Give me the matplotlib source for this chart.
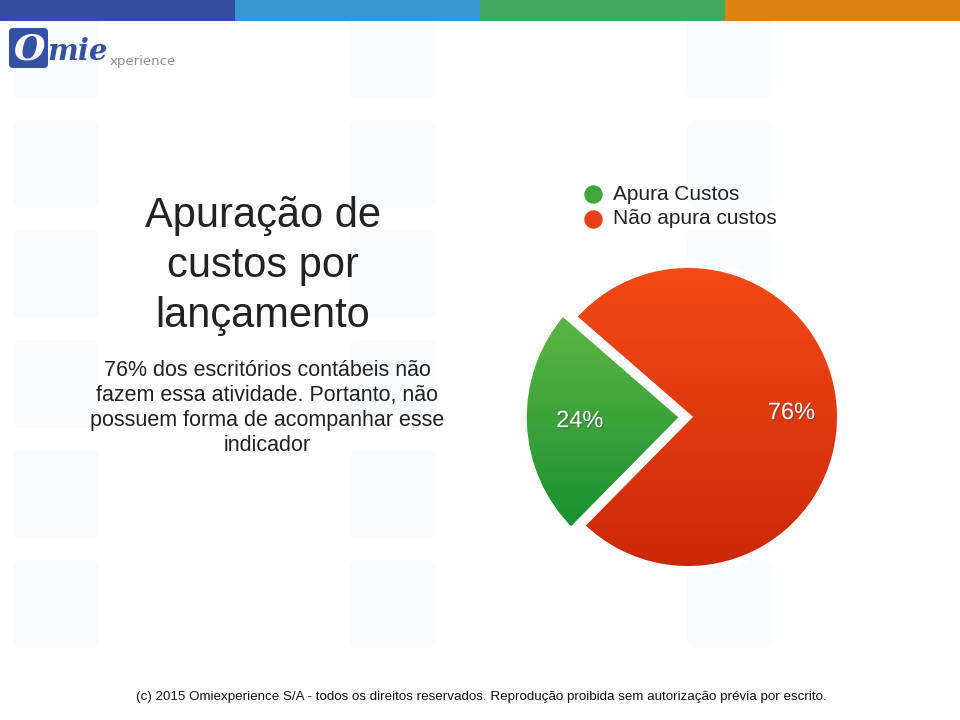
from matplotlib import pyplot as plt
from matplotlib.patches import FancyBboxPatch, Rectangle, Wedge
from matplotlib.colors import LinearSegmentedColormap
import matplotlib.patheffects as pe
import numpy as np

plt.rcParams['font.family'] = ['Liberation Sans', 'DejaVu Sans']

# data
labels = ['Apura Custos', 'Não apura custos']
shares = [24, 76]
top_colors = ['#6dbf47', '#f34a15']
bottom_colors = ['#0c882e', '#cb2808']
legend_colors = ['#3ea63a', '#e8401a']

title = 'Apuração de\ncustos por\nlançamento'
subtitle = ('76% dos escritórios contábeis não\nfazem essa atividade. Portanto, não\n'
            'possuem forma de acompanhar esse\nindicador')
footer = ('(c) 2015 Omiexperience S/A - todos os direitos reservados. '
          'Reprodução proibida sem autorização prévia por escrito.')
band_colors = ['#334ea0', '#3a95d3', '#43a95e', '#d9830e']

fig = plt.figure(figsize=(9.6, 7.2), dpi=100)

#----------------------------------------------------------------------
# page decorations in pixel coordinates
page = fig.add_axes([0, 0, 1, 1])
page.set_xlim(0, 960)
page.set_ylim(720, 0)
page.axis('off')

# faint watermark tiles
for x0 in [13, 350, 687]:
    for y0 in [10, 120, 230, 340, 450, 560]:
        page.add_patch(FancyBboxPatch((x0, y0), 86, 88,
                                      boxstyle='round,pad=0,rounding_size=8',
                                      fc='#fafbfd', ec='none', zorder=0))

edges = [0, 235, 480, 725, 960]
for i, c in enumerate(band_colors):
    page.add_patch(Rectangle((edges[i], 0), edges[i + 1] - edges[i], 21,
                             fc=c, ec='none', zorder=2))

# logo
page.add_patch(FancyBboxPatch((9, 28), 39, 40, boxstyle='round,pad=0,rounding_size=4',
                              fc='#3551a4', ec='none', zorder=2))
page.text(29, 50, 'O', fontsize=26, fontweight='bold', style='italic',
          color='white', ha='center', va='center', family='DejaVu Serif', zorder=3)
page.text(47, 52, 'mie', fontsize=21, fontweight='bold', style='italic',
          color='#3551a4', ha='left', va='center', family='DejaVu Serif', zorder=3)
page.text(110, 62, 'xperience', fontsize=9.5, color='#8a8f99', ha='left', va='center',
          family='Liberation Sans Narrow', zorder=3)

page.text(263, 266, title, fontsize=30, color='#222222', ha='center', va='center',
          linespacing=1.32, zorder=3)
page.text(267, 408, subtitle, fontsize=15.5, color='#222222', ha='center', va='center',
          linespacing=1.27, zorder=3)
page.text(481, 697, footer, fontsize=9.6, color='#111111', ha='center', va='center',
          zorder=3)

# legend
for i, lab in enumerate(labels):
    y = 194 + 25 * i
    page.scatter([593], [y], s=150, color=legend_colors[i], zorder=3)
    page.text(613, y, lab, fontsize=15, color='#222222', ha='left', va='center',
              zorder=3)

#------------------------------------------------------------
# pie with vertical gradients
lim = 170 / 152.5
ax = fig.add_axes([518 / 960, (720 - 587) / 720, 340 / 960, 340 / 720])
wedges, texts, autotexts = ax.pie(shares, startangle=139, counterclock=True,
                                  explode=[0.03, 0], autopct='%d%%', pctdistance=0.68,
                                  wedgeprops=dict(ec='white', lw=0))
wedges[0].set_radius(1.05)
ax.set_xlim(-lim, lim)
ax.set_ylim(-lim, lim)
ax.set_aspect('equal')
ax.axis('off')

grad = np.linspace(0, 1, 256).reshape(-1, 1)
for w, top, bot in zip(wedges, top_colors, bottom_colors):
    cmap = LinearSegmentedColormap.from_list('g', [bot, top])
    img = ax.imshow(grad, cmap=cmap, origin='lower', extent=[-1.1, 1.1, -1.0, 1.0],
                    aspect='auto', zorder=1)
    img.set_clip_path(w)
    w.set_facecolor('none')
    outline = Wedge(w.center, w.r, w.theta1, w.theta2, fc='none', ec='white', lw=5,
                    zorder=2)
    ax.add_patch(outline)

for t in autotexts:
    t.set_color('white')
    t.set_fontsize(17)
    t.set_zorder(4)
    t.set_path_effects([pe.withSimplePatchShadow(offset=(1, -1), alpha=0.5)])

fig.savefig('out.png', dpi=100)
